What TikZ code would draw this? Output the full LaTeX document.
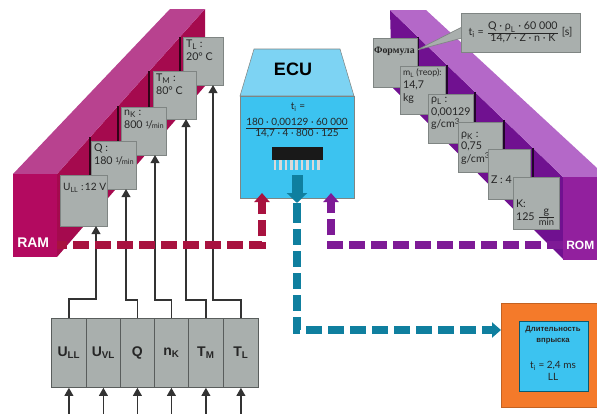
\documentclass[tikz,border=0pt]{standalone}
\usepackage{fontspec}
\setmainfont{Lato}
\newfontfamily\labfont{Liberation Sans}
\newfontfamily\serfont{Liberation Serif}
\usetikzlibrary{arrows.meta}
\definecolor{ramfront}{HTML}{B30A60}
\definecolor{ramside}{HTML}{A50A4E}
\definecolor{ramtop}{HTML}{B8428F}
\definecolor{romfront}{HTML}{92209E}
\definecolor{romside}{HTML}{701190}
\definecolor{romtop}{HTML}{B468C8}
\definecolor{ramdash}{HTML}{A8123F}
\definecolor{romdash}{HTML}{7E1A96}
\definecolor{tealdash}{HTML}{0F7F9F}
\definecolor{boxgrey}{HTML}{A9AFAD}
\definecolor{boxedge}{HTML}{7F8583}
\definecolor{ecutop}{HTML}{7DD3F3}
\definecolor{ecubody}{HTML}{3CC3F0}
\definecolor{orangebox}{HTML}{F47A2A}
\definecolor{wire}{HTML}{333333}
\tikzset{
  gbox/.style={draw=boxedge,fill=boxgrey,line width=0.6pt,anchor=north west,inner sep=2pt,font=\fontsize{8}{9.5}\selectfont,text=black!85},
  cellbox/.style={draw=boxedge!70!black,fill=boxgrey,line width=0.6pt,anchor=north west,inner sep=0pt,font=\labfont\bfseries\fontsize{10.5}{12}\selectfont,text=black!85},
  sarrow/.style={draw=wire,line width=1.2pt,-{Triangle[length=6pt,width=6.5pt]}},
  thickdash/.style={line width=6.4pt,dash pattern=on 12pt off 4.5pt,-{Triangle[length=6.75pt,width=11.25pt]}},
  facelabel/.style={text=white,font=\labfont\bfseries\fontsize{10.5}{12}\selectfont,inner sep=0pt,anchor=west},
}
\newcommand{\gb}[6]{%
  \pgfmathsetlengthmacro\bw{(#4-#2)*0.75pt-4pt}%
  \pgfmathsetlengthmacro\bh{(#5-#3)*0.75pt-4pt}%
  \node[gbox] (#1) at (#2,#3) {\parbox[t][\bh][t]{\bw}{\raggedright #6}};}
\newcommand{\cb}[4]{%
  \pgfmathsetlengthmacro\bw{(#3)*0.75pt}%
  \node[cellbox,minimum width=\bw,minimum height=51.75pt] (#1) at (#2,318) {#4};}
\newcommand{\invmin}{\raisebox{0.35ex}{\fontsize{5}{5}\selectfont 1}\kern-0.1em/\kern-0.1em{\fontsize{5.5}{5}\selectfont min}}
\begin{document}
\begin{tikzpicture}[x=0.75pt,y=-0.75pt]
\clip (0,0) rectangle (597,414);
\fill[white] (0,0) rectangle (597,414);
% RAM block
\fill[ramside] (57,174) -- (205,9) -- (205,86) -- (57,257) -- cycle;
\fill[ramtop] (13,174) -- (170,9) -- (205,9) -- (57,174) -- cycle;
\node[fill=ramfront,minimum width=33pt,minimum height=62.25pt,inner sep=0pt,anchor=north west] (ram) at (13,174) {};
\node[facelabel] (ramtext) at (17,243) {RAM};
\foreach \x/\a/\b in {90/137/175,118/106/141,149/71/107,180/37/71}
  \draw[black!70!ramside,line width=0.8pt] (\x,\a) -- (\x,\b);
% ROM block
\fill[romside] (390,10) -- (563,177) -- (563,259) -- (392,87) -- cycle;
\fill[romtop] (390,10) -- (426,10) -- (597,168) -- (597,177) -- (563,177) -- cycle;
\node[fill=romfront,minimum width=25.5pt,minimum height=62pt,inner sep=0pt,anchor=north west] (rom) at (563,177) {};
\node[facelabel,font=\labfont\bfseries\fontsize{9}{11}\selectfont] (romtext) at (566,245) {ROM};
\foreach \x/\a/\b in {418/37/66,447/65/94,475/92/122,504/120/149,533/148/177}
  \draw[black!70!romside,line width=0.8pt] (\x,\a) -- (\x,\b);
% RAM value boxes
\gb{tl}{183}{37}{223}{85}{T\textsubscript{L} :\\20° C}
\gb{tm}{153}{71}{196}{119}{T\textsubscript{M} :\\80° C}
\gb{nk}{121}{107}{166}{155}{n\textsubscript{K} :\\800 \invmin}
\gb{qq}{91}{141}{136}{189}{Q :\\180 \invmin}
\gb{ull}{60}{175}{107}{226}{\vspace*{4pt}\mbox{\fontsize{7.6}{9}\selectfont U\textsubscript{LL} :\kern1pt 12 V}}
% ROM value boxes
\fill[boxgrey] (462,27) -- (417,50) -- (462,38) -- cycle;
\draw[boxedge,line width=0.5pt] (462,27) -- (417,50) -- (462,38);
\gb{form}{373}{38}{417}{87}{\vspace*{4.5pt}\serfont\bfseries\fontsize{7.4}{8}\selectfont\mbox{\kern-1.5pt Формула}}
\gb{ml}{400}{66}{445}{114}{\mbox{\fontsize{6.6}{8}\selectfont m\textsubscript{L} (теор):}\\14,7\\kg}
\gb{rl}{428}{94}{473}{143}{ρ\textsubscript{L} :\\0,00129\\g/cm\textsuperscript{3}}
\gb{rk}{458}{122}{502}{172}{\vspace*{5pt}ρ\textsubscript{K} :\\0,75\\g/cm\textsuperscript{3}}
\gb{zz}{488}{149}{530}{199}{\vspace*{18pt}Z : 4}
\gb{kk}{513}{177}{559}{229}{\vspace*{15pt}K:\\125 $\frac{\hbox{\fontsize{8}{9}\selectfont g}}{\hbox{\fontsize{7}{8}\selectfont min}}$}
\node[draw=boxedge,fill=boxgrey,line width=0.6pt,minimum width=89.25pt,minimum height=29.25pt,inner sep=0pt,font=\fontsize{8}{9.5}\selectfont,text=black!85] (fbox) at (520.5,32.5)
  {t\textsubscript{i} = $\frac{\hbox{Q · ρ\textsubscript{L} · 60 000}}{\hbox{14,7 · Z · n · K}}$ [s]};
% ECU
\fill[ecutop,draw=boxedge,line width=0.4pt] (254,49) -- (340,49) -- (354,96) -- (240,96) -- cycle;
\node[draw=boxedge,line width=0.4pt,fill=ecubody,minimum width=85.5pt,minimum height=76.5pt,inner sep=0pt,anchor=north west] (ecu) at (240,96) {};
\node[inner sep=0pt,font=\labfont\bfseries\fontsize{13.5}{15}\selectfont] (ecutext) at (293,69) {ECU};
\node[inner sep=0pt,font=\fontsize{7.5}{9}\selectfont,text=black!85] (tilabel) at (298,107) {t\textsubscript{i} =};
\node[inner sep=0pt,font=\fontsize{7.5}{9}\selectfont,text=black!85] (tifrac) at (297,128) {$\frac{\hbox{180 · 0,00129 · 60 000}}{\hbox{14,7 · 4 · 800 · 125}}$};
\foreach \x in {275,280.4,...,319} \fill[white!85!black] (\x-1.3,158) rectangle (\x+1.3,170);
\node[fill=black!90,minimum width=38.25pt,minimum height=9.75pt,inner sep=0pt,anchor=north west] (chip) at (272,147) {};
% Orange result box
\node[fill=orangebox,draw=orangebox!80!black,line width=0.4pt,minimum width=72pt,minimum height=78pt,inner sep=0pt,anchor=north west] (out) at (501,303) {};
\node[fill=ecubody,draw=tealdash!70!black,line width=0.4pt,minimum width=51.75pt,minimum height=52.5pt,inner sep=0pt,anchor=north west] (outin) at (519,321) {};
\node[inner sep=0pt,align=center,font=\labfont\bfseries\fontsize{5.8}{8.2}\selectfont,text=black!85] (outtitle) at (553,335.5) {Длительность\\впрыска};
\node[inner sep=0pt,align=center,font=\fontsize{7.5}{9}\selectfont,text=black!85] (outval) at (553,371) {t\textsubscript{i} = 2,4 ms\\LL};
% Sensor block
\cb{s1}{51}{35}{U\textsubscript{LL}}
\cb{s2}{86}{34}{U\textsubscript{VL}}
\cb{s3}{120}{34}{Q}
\cb{s4}{154}{34}{n\textsubscript{K}}
\cb{s5}{188}{35}{T\textsubscript{M}}
\cb{s6}{223}{35}{T\textsubscript{L}}
% Wires
\coordinate (ullin) at (96,226);
\coordinate (qin) at (126,189);
\coordinate (nkin) at (155,155);
\coordinate (tmin) at (186,119);
\coordinate (tlin) at (213,85);
\draw[sarrow] (s1.north) -- ++(0,-19) -| (ullin);
\draw[sarrow] (s3.north) -- ++(0,-18) -| (qin);
\draw[sarrow] (s4.north) -- ++(0,-18) -| (nkin);
\draw[sarrow] (s5.north) -- ++(0,-18) -| (tmin);
\draw[sarrow] (s6.north) -- ++(0,-18) -| (tlin);
\coordinate (bot) at (0,420);
\foreach \s in {s1,s2,s3,s4,s5,s6}
  \draw[sarrow] (\s.south |- bot) -- (\s.south);
% Thick dashed connectors
\coordinate (ramout) at (57,245);
\coordinate (romout) at (563,245);
\coordinate (ecuram) at (262,193);
\coordinate (ecurom) at (331,193);
\coordinate (ecuout) at (297,207);
\coordinate (outarr) at (501,330);
\draw[thickdash,ramdash,dash phase=4.5pt] (ramout) -| (ecuram);
\draw[thickdash,romdash] (romout) -| (ecurom);
\coordinate (ecuarr) at (297,175);
\coordinate (ecutip) at (297,203);
\draw[tealdash,line width=6.4pt] (ecutip) -- (ecuout);
\draw[tealdash,line width=8.25pt,-{Triangle[length=7.5pt,width=15pt]}] (ecuarr) -- (ecutip);
\draw[thickdash,tealdash] (ecuout) |- (outarr);
\end{tikzpicture}
\end{document}
